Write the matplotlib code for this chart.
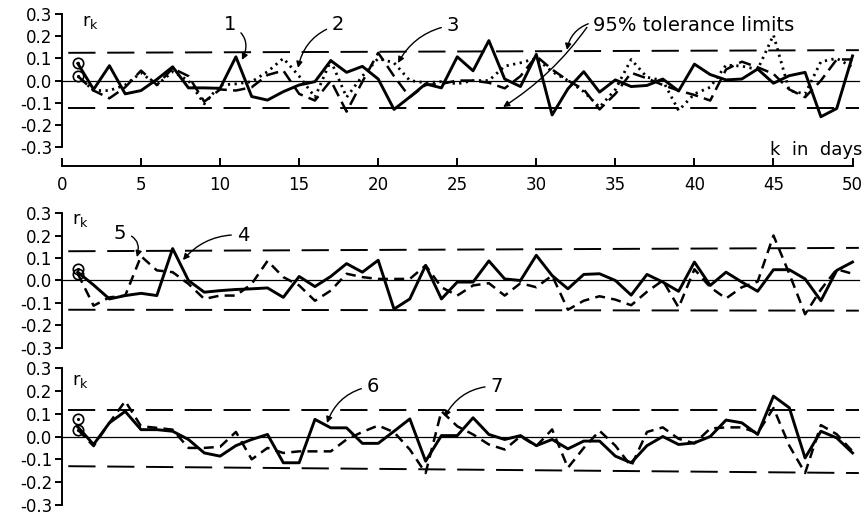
import matplotlib.pyplot as plt

plt.rcParams['font.family'] = 'DejaVu Sans'
plt.rcParams['axes.unicode_minus'] = False

# lag k in days
lags = list(range(1, 51))
x_ticks = [0, 5, 10, 15, 20, 25, 30, 35, 40, 45, 50]
y_ticks = [-0.3, -0.2, -0.1, 0.0, 0.1, 0.2, 0.3]

# top panel: curves 1 (solid), 2 (dashed), 3 (dotted)
top_s1 = [0.077, -0.04, 0.067, -0.06, -0.045, 0.005, 0.062, -0.033, -0.033, -0.035,
          0.107, -0.072, -0.088, -0.05, -0.02, -0.005, 0.09, 0.037, 0.064, 0.007,
          -0.13, -0.074, -0.015, -0.033, 0.107, 0.044, 0.18, 0.007, -0.027, 0.118,
          -0.155, -0.037, 0.04, -0.052, 0.003, -0.027, -0.022, 0.007, -0.047, 0.074,
          0.027, 0.003, 0.007, 0.052, -0.012, 0.022, 0.037, -0.163, -0.126, 0.111]
top_s2 = [0.02, -0.045, -0.08, -0.03, 0.045, -0.02, 0.055, 0.02, -0.095, -0.04,
          -0.045, -0.03, 0.025, 0.045, -0.06, -0.09, 0.0, -0.14, -0.005, 0.125,
          0.02, -0.075, -0.02, -0.015, 0.0, 0.0, -0.01, -0.035, 0.02, 0.11,
          0.05, 0.0, -0.04, -0.13, -0.06, 0.035, 0.01, -0.02, -0.045, -0.065,
          -0.09, 0.05, 0.085, 0.06, 0.03, -0.04, -0.075, 0.0, 0.095, 0.095]
top_s3 = [0.02, -0.045, -0.045, -0.02, 0.035, -0.02, 0.04, 0.0, -0.105, -0.02,
          -0.015, -0.005, 0.04, 0.1, 0.02, -0.075, 0.09, -0.075, 0.02, 0.1,
          0.08, 0.0, -0.01, -0.005, -0.015, 0.0, 0.0, 0.065, 0.08, 0.1,
          0.04, 0.0, -0.05, -0.12, -0.04, 0.095, 0.015, 0.0, -0.135, -0.06,
          -0.03, 0.07, 0.065, 0.05, 0.205, -0.045, -0.06, 0.085, 0.1, 0.06]

# middle panel: curves 4 (solid), 5 (dashed)
mid_s4 = [0.037, -0.02, -0.082, -0.067, -0.057, -0.067, 0.142, 0.0, -0.052, -0.045,
          -0.04, -0.037, -0.033, -0.075, 0.018, -0.027, 0.018, 0.075, 0.037, 0.09,
          -0.127, -0.082, 0.067, -0.082, -0.007, -0.007, 0.087, 0.007, 0.0, 0.112,
          0.022, -0.037, 0.027, 0.03, 0.0, -0.065, 0.027, -0.007, -0.048, 0.082,
          -0.022, 0.037, -0.007, -0.048, 0.048, 0.048, 0.007, -0.09, 0.045, 0.082]
mid_s5 = [0.03, -0.112, -0.075, -0.067, 0.108, 0.045, 0.037, -0.015, -0.082, -0.067,
          -0.067, -0.015, 0.087, 0.015, -0.022, -0.09, -0.045, 0.03, 0.015, 0.007,
          0.007, 0.007, 0.067, -0.03, -0.067, -0.022, -0.012, -0.067, -0.012, -0.03,
          0.022, -0.13, -0.09, -0.07, -0.085, -0.11, -0.05, 0.0, -0.12, 0.05,
          -0.03, -0.08, -0.03, -0.005, 0.2, 0.03, -0.15, -0.04, 0.05, 0.03]

# bottom panel: curves 6 (solid), 7 (dashed)
bot_s6 = [0.042, -0.035, 0.06, 0.11, 0.03, 0.03, 0.023, -0.013, -0.072, -0.086,
          -0.04, -0.013, 0.009, -0.115, -0.115, 0.075, 0.038, 0.038, -0.03, -0.03,
          0.023, 0.077, -0.108, 0.004, 0.004, 0.082, 0.009, -0.013, 0.004, -0.04,
          -0.013, -0.054, -0.02, -0.02, -0.086, -0.115, -0.04, 0.0, -0.035, -0.028,
          0.0, 0.072, 0.06, 0.009, 0.177, 0.126, -0.094, 0.023, -0.006, -0.072]
bot_s7 = [0.03, -0.042, 0.06, 0.155, 0.045, 0.038, 0.03, -0.05, -0.05, -0.045,
          0.02, -0.1, -0.05, -0.072, -0.065, -0.065, -0.065, -0.013, 0.02, 0.048,
          0.019, -0.057, -0.16, 0.111, 0.045, 0.009, -0.035, -0.057, 0.001, -0.042,
          0.031, -0.137, -0.05, 0.025, -0.04, -0.13, 0.02, 0.04, -0.01, -0.03,
          0.035, 0.04, 0.04, 0.015, 0.125, -0.04, -0.16, 0.05, 0.01, -0.065]

# 95% tolerance limits (left end, right end)
top_tol_hi, top_tol_lo = [0.125, 0.137], [-0.124, -0.124]
mid_tol_hi, mid_tol_lo = [0.13, 0.145], [-0.13, -0.134]
bot_tol_hi, bot_tol_lo = [0.118, 0.118], [-0.13, -0.16]
tol_x = [0.4, 50.4]

# circled r1 values
top_circles = [0.077, 0.022]
mid_circles = [0.05, 0.03]
bot_circles = [0.075, 0.03]

fig = plt.figure(figsize=(8.68, 5.16), dpi=100)
ax1 = fig.add_axes([0.0714, 0.6783, 0.9217, 0.2946])
ax2 = fig.add_axes([0.0714, 0.3256, 0.9217, 0.2616])
ax3 = fig.add_axes([0.0714, 0.0213, 0.9217, 0.2655])


def setup(ax, ylow):
    ax.set_xlim(0, 50.6)
    ax.set_ylim(ylow, 0.3)
    ax.patch.set_visible(False)
    for s in ['top', 'right']:
        ax.spines[s].set_visible(False)
    ax.spines['left'].set_bounds(-0.3, 0.3)
    ax.spines['left'].set_linewidth(1.4)
    ax.set_yticks(y_ticks)
    ax.set_yticklabels(['%.1f' % v for v in y_ticks])
    ax.tick_params(axis='y', direction='out', length=5, width=1.4,
                   labelsize=12, pad=2)


def draw_panel(ax, tol_hi, tol_lo, circles):
    ax.plot([0, 50.4], [0, 0], color='k', lw=0.9)
    ax.plot(tol_x, tol_hi, color='k', lw=1.4, dashes=(14, 6))
    ax.plot(tol_x, tol_lo, color='k', lw=1.4, dashes=(14, 6))
    ax.plot([1] * len(circles), circles, 'o', ms=7.5, mfc='none',
            mec='k', mew=1.2, clip_on=False)
    ax.plot([1] * len(circles), circles, '.', ms=2.5, color='k')


setup(ax1, -0.385)
setup(ax2, -0.3)
setup(ax3, -0.3)

ax1.spines['bottom'].set_bounds(0, 50)
ax1.spines['bottom'].set_linewidth(1.4)
ax1.set_xticks(x_ticks)
ax1.tick_params(axis='x', direction='in', length=6, width=1.4,
                labelsize=12, pad=7)
for ax in (ax2, ax3):
    ax.spines['bottom'].set_visible(False)
    ax.set_xticks([])

draw_panel(ax1, top_tol_hi, top_tol_lo, top_circles)
draw_panel(ax2, mid_tol_hi, mid_tol_lo, mid_circles)
draw_panel(ax3, bot_tol_hi, bot_tol_lo, bot_circles)

ax1.plot(lags, top_s1, color='k', lw=2.1)
ax1.plot(lags, top_s2, color='k', lw=1.8, dashes=(5, 2.5))
ax1.plot(lags, top_s3, color='k', lw=2.0, dashes=(0.8, 1.6))
ax2.plot(lags, mid_s4, color='k', lw=2.1)
ax2.plot(lags, mid_s5, color='k', lw=1.8, dashes=(4, 2.5))
ax3.plot(lags, bot_s6, color='k', lw=2.1)
ax3.plot(lags, bot_s7, color='k', lw=1.8, dashes=(4, 2.5))

# labels
rk = r'$\mathregular{r_k}$'
ax1.text(1.77, 0.264, rk, fontsize=13, ha='center', va='center')
ax2.text(1.14, 0.27, rk, fontsize=13, ha='center', va='center')
ax3.text(1.14, 0.245, rk, fontsize=13, ha='center', va='center')
ax1.text(50.6, -0.313, 'k  in  days', fontsize=13, ha='right', va='center')
ax1.text(33.6, 0.25, '95% tolerance limits', fontsize=14, ha='left', va='center')


def arrow(ax, label, tip, txt, rad):
    ax.annotate(label, xy=tip, xytext=txt, ha='center', va='center',
                fontsize=14,
                arrowprops=dict(arrowstyle='-|>', color='k', lw=1.0,
                                connectionstyle='arc3,rad=%s' % rad,
                                shrinkA=2, shrinkB=0, mutation_scale=9))


arrow(ax1, '1', (11.38, 0.093), (10.63, 0.251), -0.5)
arrow(ax1, '2', (14.93, 0.057), (17.46, 0.251), 0.3)
arrow(ax1, '3', (21.25, 0.079), (24.73, 0.25), 0.25)
arrow(ax1, '', (31.94, 0.138), (33.45, 0.26), 0.3)
arrow(ax1, '', (27.9, -0.119), (33.3, 0.25), -0.1)
arrow(ax2, '4', (7.65, 0.091), (11.45, 0.202), 0.25)
arrow(ax2, '5', (4.74, 0.104), (3.67, 0.211), -0.6)
arrow(ax3, '6', (16.76, 0.059), (19.67, 0.221), 0.3)
arrow(ax3, '7', (24.2, 0.086), (27.5, 0.221), 0.3)

fig.savefig('out.png', dpi=100)
